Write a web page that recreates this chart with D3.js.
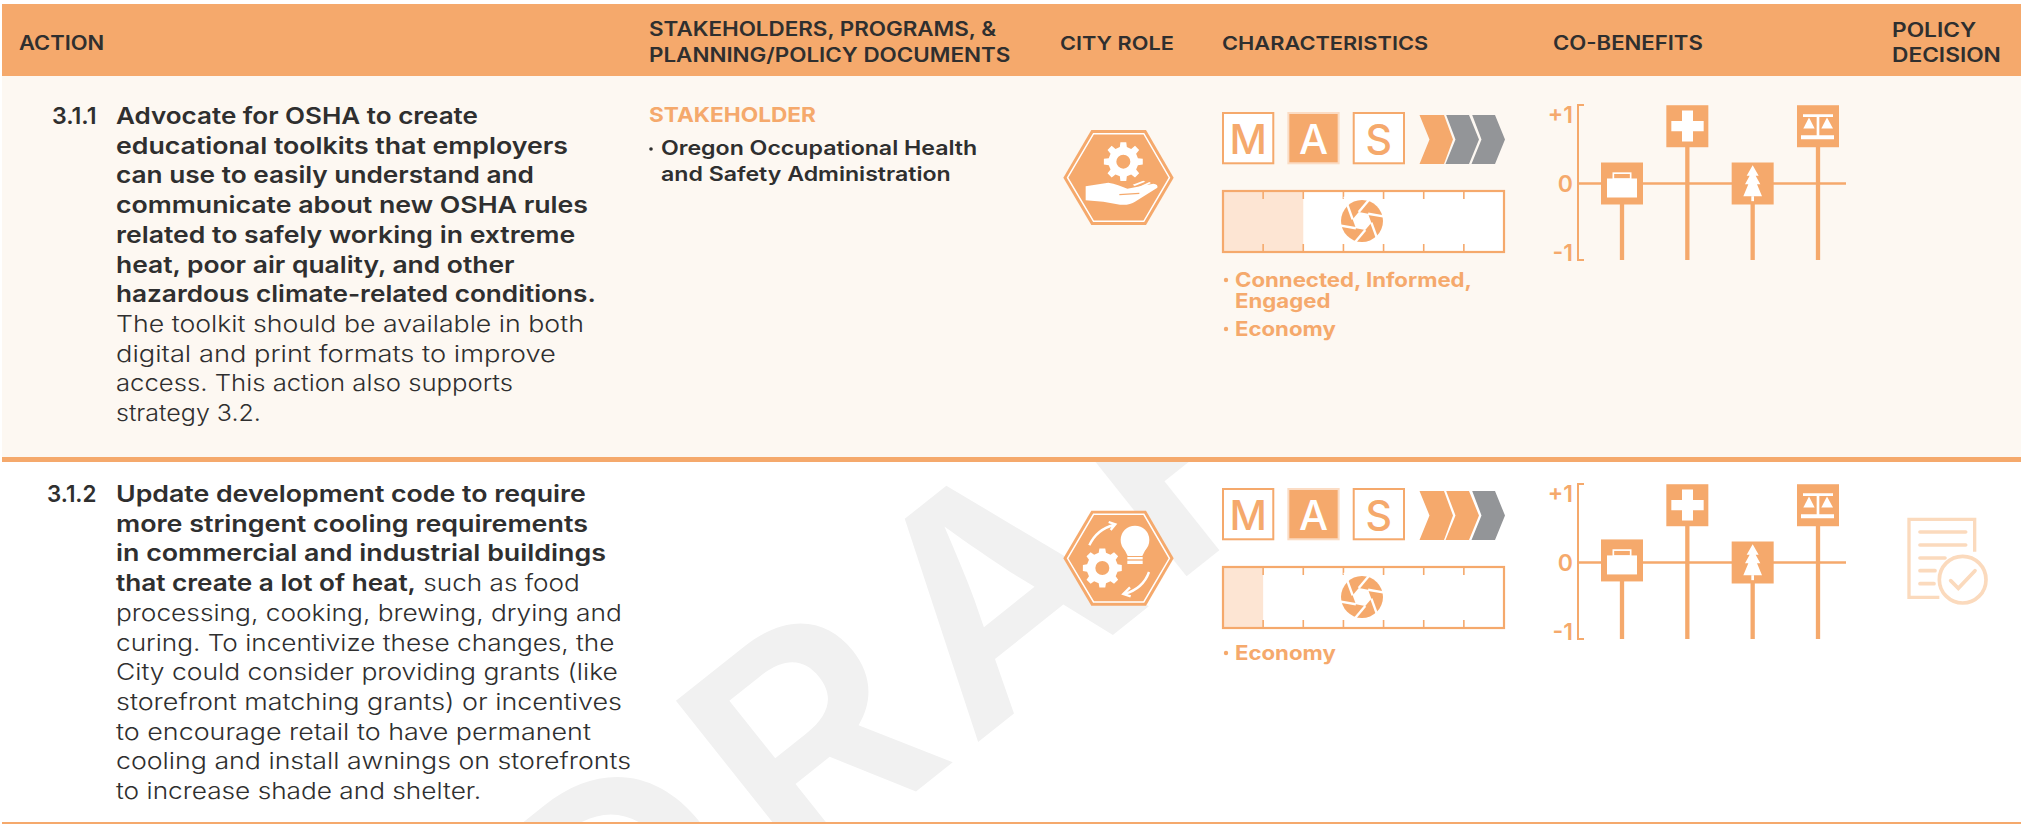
<!DOCTYPE html>
<html><head><meta charset="utf-8">
<script src="https://cdnjs.cloudflare.com/ajax/libs/d3/7.8.5/d3.min.js"></script>
<style>html,body{margin:0;background:#fff}svg{display:block}text{font-family:Inter,"Open Sans",sans-serif}</style>
</head><body><svg id="c" width="2021" height="824"></svg>
<script>
// ---------- data ----------
const headerLabels = [["ACTION"],["STAKEHOLDERS, PROGRAMS, &","PLANNING/POLICY DOCUMENTS"],["CITY ROLE"],["CHARACTERISTICS"],["CO-BENEFITS"],["POLICY","DECISION"]];
const actionNumbers = ["3.1.1","3.1.2"];
const actionLines1 = [
 [["Advocate for OSHA to create",1]],[["educational toolkits that employers",1]],[["can use to easily understand and",1]],
 [["communicate about new OSHA rules",1]],[["related to safely working in extreme",1]],[["heat, poor air quality, and other",1]],
 [["hazardous climate-related conditions.",1]],[["The toolkit should be available in both",0]],[["digital and print formats to improve",0]],
 [["access. This action also supports",0]],[["strategy 3.2.",0]]];
const actionLines2 = [
 [["Update development code to require",1]],[["more stringent cooling requirements",1]],[["in commercial and industrial buildings",1]],
 [["that create a lot of heat,",1],[" such as food",0]],[["processing, cooking, brewing, drying and",0]],[["curing. To incentivize these changes, the",0]],
 [["City could consider providing grants (like",0]],[["storefront matching grants) or incentives",0]],[["to encourage retail to have permanent",0]],
 [["cooling and install awnings on storefronts",0]],[["to increase shade and shelter.",0]]];
const stakeholderTitle = "STAKEHOLDER";
const stakeholderLines = ["Oregon Occupational Health","and Safety Administration"];
const masLetters = ["M","A","S"];
const masActive = ["A","A"];
const chevronFilled = [1,2];
const chevronTotal = 3;
const barFilled = [2,1];
const barSegments = 7;
const characteristics1 = [["Connected, Informed,","Engaged"],["Economy"]];
const characteristics2 = [["Economy"]];
const coBenefitCats = ["Economy","Health","Environment","Equity"];
const coBenefits1 = [0,0.83,0,0.83];
const coBenefits2 = [0.03,0.83,0,0.83];
const coTicks = [-1,0,1];
const watermark = "DRAFT";

// ---------- layout: right edge of each wrapped line ----------
const lineEnds1 = [478,568,534,588,575,514.5,596,584,556,513,261];
const lineEnds2 = [586,588,606,580,622,614.5,618,622,591,631,481];

// ---------- style ----------
const OR="#f5a96c", CREAM="#fdf8f2", INK="#2f2f2f", GREY="#939598", LIGHT="#fde5d3", PALE="#fbdabd", K=1.13;
const svg=d3.select("#c");
const text=(p,x,y,s,size,w,fill,k=K)=>p.append("text").attr("transform",`translate(${x},${y}) scale(${k},1)`)
  .attr("font-size",size).attr("font-weight",w).attr("fill",fill).text(s);
const fit=(t,x,y,end)=>t.attr("transform",`translate(${x},${y}) scale(${(end-x)/t.node().getComputedTextLength()},1)`);

// ---------- backgrounds ----------
svg.append("rect").attr("x",2).attr("y",4).attr("width",2019).attr("height",72).attr("fill",OR);
svg.append("rect").attr("x",2).attr("y",76).attr("width",2019).attr("height",381).attr("fill",CREAM);

// watermark
svg.append("clipPath").attr("id","wm").append("rect").attr("x",0).attr("y",462).attr("width",2021).attr("height",360);
const wmG=svg.append("g").attr("clip-path","url(#wm)");
const wm=wmG.append("text").attr("font-size",303).attr("font-weight",600).attr("letter-spacing",16).attr("fill","#f1f1f1").text(watermark);
const m0=wm.node().getStartPositionOfChar(2).x; // origin of the A
wm.attr("transform",`translate(972,747) rotate(-38.5) scale(1.06,1) translate(${-m0},0)`);

svg.append("rect").attr("x",2).attr("y",457).attr("width",2019).attr("height",5).attr("fill",OR);
svg.append("rect").attr("x",2).attr("y",822).attr("width",2019).attr("height",2).attr("fill",OR);

// ---------- header ----------
const hx=[19,649,1060,1222,1553,1892], hb=[[50],[36,62],[50],[50],[50],[37,62]], hk=[1.13,1.155,1.12,1.125,1.14,1.17];
headerLabels.forEach((ls,i)=>ls.forEach((l,j)=>text(svg,hx[i],hb[i][j],l,19.4,600,INK,hk[i])));

// ---------- action text ----------
[[actionLines1,124,52,lineEnds1],[actionLines2,502,47,lineEnds2]].forEach(([lines,y0,nx,ends],r)=>{
  fit(text(svg,nx,y0,actionNumbers[r],23,600,INK,1),nx,y0,96.5);
  lines.forEach((parts,i)=>{
    const yy=y0+i*29.7;
    const t=text(svg,116,yy,"",23,300,INK);
    t.selectAll("tspan").data(parts).join("tspan").attr("xml:space","preserve").style("white-space","pre")
      .attr("font-weight",d=>d[1]?600:300).text(d=>d[0]);
    fit(t,116,yy,ends[i]);
  });
});

// stakeholder
text(svg,649,122,stakeholderTitle,20.4,700,OR,1.11);
stakeholderLines.forEach((l,i)=>{
  if(i===0) svg.append("circle").attr("cx",651).attr("cy",149).attr("r",1.8).attr("fill",INK);
  text(svg,661,155+i*26,l,20,600,INK,1.157);
});

// ---------- characteristics ----------
[[112,190,characteristics1,287],[488,566,characteristics2,660]].forEach(([top,bar,chars,ty],r)=>{
  const g=svg.append("g");
  // MAS
  const bx=d3.scaleBand().domain(masLetters).range([1222,1405]).paddingInner(0.2);
  masLetters.forEach(l=>{
    const on=l===masActive[r];
    g.append("rect").attr("x",bx(l)+1).attr("y",top+1).attr("width",bx.bandwidth()-2).attr("height",bx.bandwidth()-2)
      .attr("fill",on?OR:"#fff").attr("stroke",on?"#fbdcc4":OR).attr("stroke-width",2);
    g.append("text").attr("x",bx(l)+bx.bandwidth()/2).attr("y",top+41.5).attr("text-anchor","middle")
      .attr("font-size",41).attr("font-weight",500).attr("fill",on?"#fff":OR).text(l);
  });
  // chevrons
  const cx=d3.scaleLinear().domain([0,chevronTotal]).range([1419.5,1497.5]);
  d3.range(chevronTotal).forEach(i=>{
    const x=cx(i),t=top+3,b=top+52,m=top+27.5;
    const first=i===0?0:0.7;
    g.append("polygon").attr("points",[[x+first,t],[x+(i?23.5:24.5),t],[x+33.5,m],[x+(i?23.5:24.5),b],[x+first-(i?.7:0),b],[x+10,m]].join(" "))
      .attr("fill",i<chevronFilled[r]?OR:GREY);
  });
  // gauge
  const sx=d3.scaleLinear().domain([0,barSegments]).range([1223,1504]);
  g.append("rect").attr("x",sx(0)).attr("y",bar+1).attr("width",sx(barSegments)-sx(0)).attr("height",61).attr("fill","#fff");
  g.append("rect").attr("x",sx(0)).attr("y",bar+1).attr("width",sx(barFilled[r])-sx(0)).attr("height",61).attr("fill",LIGHT);
  g.append("rect").attr("x",sx(0)).attr("y",bar+1).attr("width",sx(barSegments)-sx(0)).attr("height",61).attr("fill","none").attr("stroke",OR).attr("stroke-width",2.2);
  d3.range(1,barSegments).forEach(i=>{
    g.append("line").attr("x1",sx(i)).attr("x2",sx(i)).attr("y1",bar+1).attr("y2",bar+9).attr("stroke",OR).attr("stroke-width",1.6);
    g.append("line").attr("x1",sx(i)).attr("x2",sx(i)).attr("y1",bar+54).attr("y2",bar+62).attr("stroke",OR).attr("stroke-width",1.6);
  });
  aperture(g,1362,bar+31,21);
  // bullets
  let y=ty;
  chars.forEach(c=>{
    g.append("circle").attr("cx",1226).attr("cy",y-7).attr("r",2.2).attr("fill",OR);
    c.forEach((l,j)=>{ text(g,1235,y,l,20,700,OR,1.11); y+=(j<c.length-1?20.5:0); });
    y+=28.5;
  });
});

function aperture(g,cx,cy,R){
  const a=g.append("g").attr("transform",`translate(${cx},${cy})`);
  a.append("circle").attr("r",R).attr("fill",OR);
  const r0=9.5,pts=d3.range(6).map(i=>{const t=(i*60+10)*Math.PI/180;return [r0*Math.cos(t),r0*Math.sin(t)];});
  a.append("polygon").attr("points",pts.join(" ")).attr("fill","#fff");
  pts.forEach((p,i)=>{
    const q=pts[(i+5)%6],dx=p[0]-q[0],dy=p[1]-q[1],L=Math.hypot(dx,dy);
    a.append("line").attr("x1",p[0]).attr("y1",p[1]).attr("x2",p[0]+dx/L*R*1.15).attr("y2",p[1]+dy/L*R*1.15)
     .attr("stroke","#fff").attr("stroke-width",2.4);
  });
}

// ---------- hexagons ----------
function gearPath(cx,cy,R,r,hole,n){
  const p=d3.path(),step=2*Math.PI/n;
  for(let i=0;i<n;i++){
    const a=i*step-Math.PI/2;
    [[a-step*.30,r],[a-step*.19,R],[a+step*.19,R],[a+step*.30,r]].forEach(([t,q],j)=>{
      const x=cx+q*Math.cos(t),y=cy+q*Math.sin(t);
      (i===0&&j===0)?p.moveTo(x,y):p.lineTo(x,y);
    });
  }
  p.closePath();
  p.moveTo(cx+hole,cy);p.arc(cx,cy,hole,0,2*Math.PI);
  return p.toString();
}
[90,470].forEach((oy,r)=>{
  const g=svg.append("g").attr("transform",`translate(1040,${oy}) scale(${1/3})`);
  const dy=r?2:0;
  const hex=(i)=>[[70+i*1.15,263+dy],[154+i*.6,120+dy+i],[318-i*.6,120+dy+i],[401-i*1.15,263+dy],[318-i*.6,405+dy-i],[154+i*.6,405+dy-i]].join(" ");
  g.append("polygon").attr("points",hex(0)).attr("fill",OR);
  g.append("polygon").attr("points",hex(11)).attr("fill","none").attr("stroke","#fff").attr("stroke-width",4.5);
  if(r===0){
    g.append("path").attr("fill-rule","evenodd").attr("fill","#fff").attr("d",gearPath(250,215,59,45,21,8));
    g.append("path").attr("fill","#fff").attr("d","M137 289 L205 278 C225 280 245 290 262 296 L340 281 Q355 283 352 293 L285 335 Q270 346 240 344 L190 335 L137 331 Z");
    g.append("path").attr("fill","none").attr("stroke",OR).attr("stroke-width",4).attr("d","M238 314 L298 310");
    g.append("path").attr("fill","#fff").attr("d","M278 284 L310 272 L316 275 L284 288 Z M296 291 L328 276 L333 279 L302 295 Z");
  } else {
    g.append("path").attr("fill-rule","evenodd").attr("fill","#fff").attr("d",gearPath(187,294,59,47,21,8));
    g.append("circle").attr("cx",285).attr("cy",210).attr("r",43).attr("fill","#fff");
    g.append("polygon").attr("points","250,232 320,232 307,258 263,258").attr("fill","#fff");
    g.append("rect").attr("x",262).attr("y",261).attr("width",46).attr("height",7).attr("fill","#fff");
    g.append("rect").attr("x",262).attr("y",272).attr("width",46).attr("height",10).attr("fill","#fff");
    const arrow="fill:none;stroke:#fff;stroke-width:7";
    g.append("path").attr("style",arrow).attr("d","M148 226 Q170 178 222 165 M206 156 L226 163 L212 180");
    g.append("path").attr("style",arrow).attr("d","M327 306 Q310 355 254 372 M270 352 L250 372 L272 379");
  }
});

// ---------- co-benefits ----------
const icons={
 Economy:g=>{g.append("rect").attr("x",-45).attr("y",-15).attr("width",90).attr("height",57).attr("fill","#fff");
   g.append("rect").attr("x",-26).attr("y",-31).attr("width",52).attr("height",18).attr("fill","none").attr("stroke","#fff").attr("stroke-width",5);},
 Health:g=>{g.append("path").attr("fill","#fff").attr("d","M-16 -47H17V-16H49V15H17V46H-16V15H-48V-16H-16Z");},
 Environment:g=>{g.append("polygon").attr("fill","#fff").attr("points","0,-55 18,-23 9,-23 23,2 13,2 28,38 -28,38 -13,2 -23,2 -9,-23 -18,-23");
   g.append("rect").attr("x",-4).attr("y",38).attr("width",8).attr("height",15).attr("fill","#fff");},
 Equity:g=>{g.append("path").attr("fill","#fff").attr("d","M-45 -36H45V-28H4V27H48V39H-51V27H-4V-28H-45Z");
   g.append("polygon").attr("fill","#fff").attr("points","-27,-26 -44,7 -10,7");
   g.append("polygon").attr("fill","#fff").attr("points","27,-26 10,7 45,7");}
};
[[coBenefits1,183.5,105,260],[coBenefits2,562.5,484,639]].forEach(([vals,zero,top,bot])=>{
  const y=d3.scaleLinear().domain([-1,1]).range([zero+69,zero-69]);
  const x=d3.scalePoint().domain(coBenefitCats).range([1622,1818]);
  const g=svg.append("g");
  g.append("path").attr("d",`M1584 ${top}H1578V${bot}H1584`).attr("fill","none").attr("stroke",OR).attr("stroke-width",2);
  g.append("line").attr("x1",1578).attr("x2",1846).attr("y1",y(0)).attr("y2",y(0)).attr("stroke",OR).attr("stroke-width",2.4);
  const ax=g.append("g").attr("transform","translate(1573,0)")
    .call(d3.axisLeft(y).tickValues(coTicks).tickSize(0).tickPadding(0).tickFormat(d=>d>0?"+1":d<0?"-1":"0"));
  ax.select(".domain").remove();
  ax.selectAll("text").attr("font-size",23).attr("font-weight",600).attr("fill",OR).attr("dy",8.3)
    .style("font-family","Inter");
  coBenefitCats.forEach((c,i)=>{
    g.append("line").attr("x1",x(c)).attr("x2",x(c)).attr("y1",y(vals[i])).attr("y2",bot).attr("stroke",OR).attr("stroke-width",4.3);
    g.append("rect").attr("x",x(c)-21).attr("y",y(vals[i])-21).attr("width",42).attr("height",42).attr("fill",OR);
    icons[c](g.append("g").attr("transform",`translate(${x(c)},${y(vals[i])}) scale(${1/3})`));
  });
});

// ---------- policy decision icon (row 2) ----------
{
  const g=svg.append("g").attr("transform",`translate(1530,470) scale(${1/3})`);
  g.append("path").attr("fill","none").attr("stroke",PALE).attr("stroke-width",10).attr("d","M1334 245V148H1137V382H1228");
  [[186,1307],[225,1307],[264,1245],[302,1215],[341,1212]].forEach(([yy,x2])=>
    g.append("line").attr("x1",1170).attr("x2",x2).attr("y1",yy).attr("y2",yy).attr("stroke",PALE).attr("stroke-width",11).attr("stroke-linecap","round"));
  g.append("circle").attr("cx",1298).attr("cy",329).attr("r",70).attr("fill","#fff").attr("stroke",PALE).attr("stroke-width",11);
  g.append("path").attr("fill","none").attr("stroke",PALE).attr("stroke-width",11).attr("stroke-linecap","round").attr("d","M1262 332L1285 355L1335 302");
}
</script></body></html>
